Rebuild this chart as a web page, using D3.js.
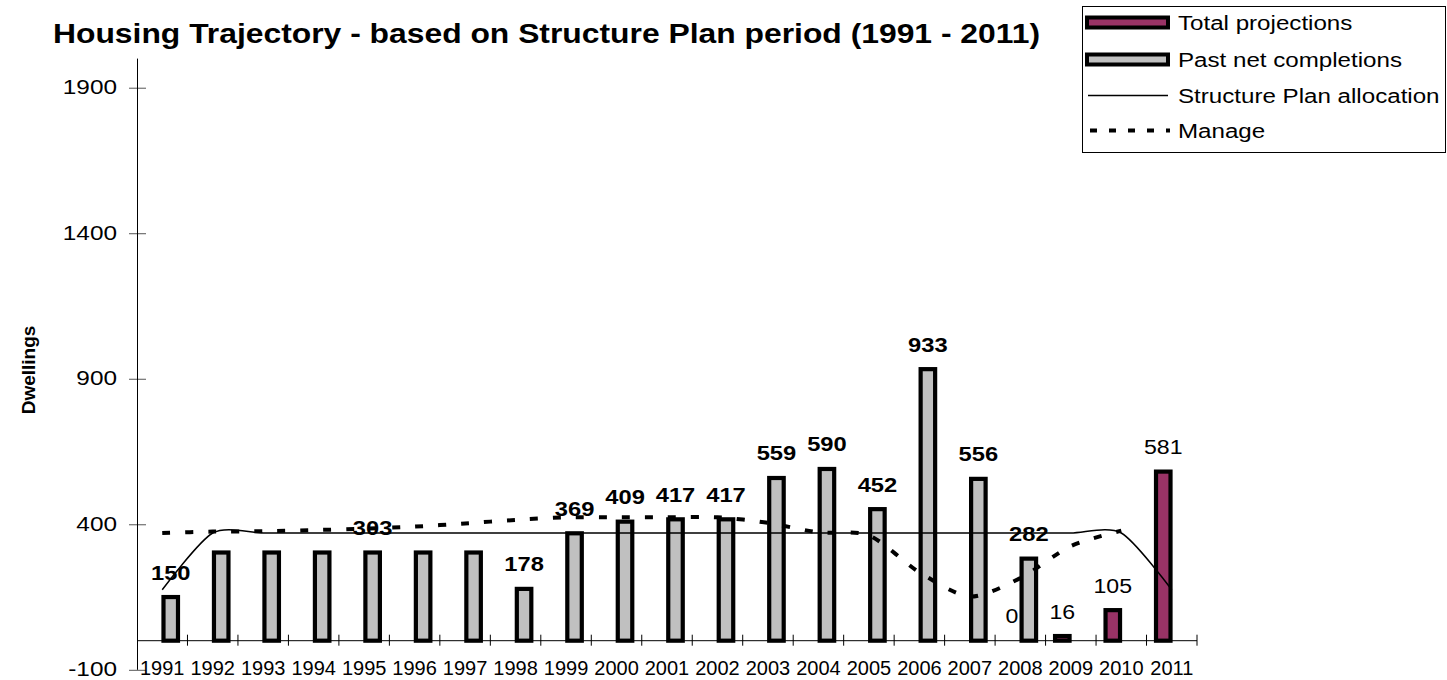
<!DOCTYPE html>
<html>
<head>
<meta charset="utf-8">
<script src="https://cdn.jsdelivr.net/npm/d3@7"></script>
<style>
  html, body { margin: 0; padding: 0; background: #fff; }
  svg { display: block; font-family: "Liberation Sans", Arial, sans-serif; }
</style>
</head>
<body>
<svg id="chart" width="1447" height="680"></svg>
<script>
// Housing trajectory data, 1991 - 2011
const years = ["1991","1992","1993","1994","1995","1996","1997","1998","1999","2000",
               "2001","2002","2003","2004","2005","2006","2007","2008","2009","2010","2011"];
const seriesNames = ["Total projections", "Past net completions"];
const completions = [150, 303, 303, 303, 303, 303, 303, 178, 369, 409,
                     417, 417, 559, 590, 452, 933, 556, 282, null, null, null];
const completionLabels = ["150", "", "", "", "303", "", "", "178", "369", "409",
                          "417", "417", "559", "590", "452", "933", "556", "282", "", "", ""];
const projections = [null, null, null, null, null, null, null, null, null, null,
                     null, null, null, null, null, null, null, 0, 16, 105, 581];
const allocation = [175, 370, 370, 370, 370, 370, 370, 370, 370, 370,
                    370, 370, 370, 370, 370, 370, 370, 370, 370, 370, 175];
const manage = [370, 375, 376, 380, 385, 392, 403, 415, 424, 424,
                424, 424, 405, 372, 362, 235, 152, 215, 325, 378];
const yTicks = [-100, 400, 900, 1400, 1900];

const svg = d3.select("#chart");
const PURPLE = "#993366", GREY = "#C0C0C0";

// Scales
const x = d3.scaleBand().domain(years).range([137, 1197]).padding(0);
const xs = d3.scaleBand().domain(seriesNames).range([-17, 17]).padding(0);
const y = d3.scaleLinear().domain([-100, 2000]).range([669.8, 58.6]);
const cx = yr => x(yr) + x.bandwidth() / 2;
const barW = 14.5;

// Title
svg.append("text")
  .attr("x", 53).attr("y", 43)
  .attr("font-size", 27).attr("font-weight", "bold")
  .attr("textLength", 987).attr("lengthAdjust", "spacingAndGlyphs")
  .text("Housing Trajectory - based on Structure Plan period (1991 - 2011)");

// Value axis
const yAxis = svg.append("g")
  .attr("transform", `translate(137,0)`)
  .call(d3.axisLeft(y).tickValues(yTicks).tickFormat(d => String(d))
          .tickSize(8).tickPadding(12).tickSizeOuter(0));
yAxis.select(".domain").remove();
yAxis.selectAll(".tick line").attr("stroke", "#555").attr("x2", 9).attr("x1", -8);
yAxis.selectAll(".tick text")
  .attr("x", 0).attr("dy", "0.28em")
  .attr("font-size", 21).attr("fill", "#000")
  .attr("font-family", "Liberation Sans, Arial, sans-serif")
  .attr("transform", "translate(-20,0) scale(1.16,1)");
svg.append("line")
  .attr("x1", 137.5).attr("x2", 137.5)
  .attr("y1", y(2000)).attr("y2", y(-100))
  .attr("stroke", "#000").attr("stroke-width", 1);

// Axis title
svg.append("text")
  .attr("transform", `translate(35,370) rotate(-90)`)
  .attr("text-anchor", "middle")
  .attr("font-size", 19).attr("font-weight", "bold")
  .text("Dwellings");

// Category axis line at zero with cross ticks on category boundaries
svg.append("line")
  .attr("x1", 137).attr("x2", 1197)
  .attr("y1", y(0)).attr("y2", y(0))
  .attr("stroke", "#000").attr("stroke-width", 1);
svg.append("g").selectAll("line")
  .data(years)
  .join("line")
  .attr("x1", d => x(d) + x.bandwidth()).attr("x2", d => x(d) + x.bandwidth())
  .attr("y1", y(0) - 6).attr("y2", y(0) + 5)
  .attr("stroke", "#000").attr("stroke-width", 1);

// Category labels along the bottom
const xAxis = svg.append("g")
  .attr("transform", `translate(0,${y(-100)})`)
  .call(d3.axisBottom(x).tickSize(0).tickSizeOuter(0));
xAxis.select(".domain").remove();
xAxis.selectAll(".tick text")
  .attr("y", 5).attr("dy", 0)
  .attr("font-size", 20).attr("fill", "#000")
  .attr("font-family", "Liberation Sans, Arial, sans-serif");

// Bars
const barData = [];
years.forEach((yr, i) => {
  if (projections[i] !== null) barData.push({ yr, s: seriesNames[0], v: projections[i], fill: PURPLE });
  if (completions[i] !== null) barData.push({ yr, s: seriesNames[1], v: completions[i], fill: GREY });
});
svg.append("g").selectAll("rect")
  .data(barData)
  .join("rect")
  .attr("x", d => cx(d.yr) + xs(d.s) + (xs.bandwidth() - barW) / 2)
  .attr("width", barW)
  .attr("y", d => y(d.v))
  .attr("height", d => y(0) - y(d.v))
  .attr("fill", d => d.fill)
  .attr("stroke", "#000").attr("stroke-width", 4.2);

// Lines
const smooth = d3.curveCardinal.tension(0.2);
svg.append("path")
  .datum(allocation)
  .attr("d", d3.line().x((d, i) => cx(years[i])).y(d => y(d)).curve(smooth))
  .attr("fill", "none").attr("stroke", "#000").attr("stroke-width", 1.5);
svg.append("path")
  .datum(manage)
  .attr("d", d3.line().x((d, i) => cx(years[i])).y(d => y(d)).curve(smooth))
  .attr("fill", "none").attr("stroke", "#000").attr("stroke-width", 4)
  .attr("stroke-dasharray", "8,15");

// Data labels
const labels = svg.append("g").attr("font-family", "Liberation Sans, Arial, sans-serif");
years.forEach((yr, i) => {
  if (completionLabels[i] !== "") {
    const px = cx(yr) + xs(seriesNames[1]) + xs.bandwidth() / 2;
    labels.append("text")
      .attr("transform", `translate(${px},${y(completions[i]) - 17.5}) scale(1.13,1)`)
      .attr("text-anchor", "middle")
      .attr("font-size", 21).attr("font-weight", "bold")
      .text(completionLabels[i]);
  }
  if (projections[i] !== null) {
    const px = cx(yr) + xs(seriesNames[0]) + xs.bandwidth() / 2;
    labels.append("text")
      .attr("transform", `translate(${px},${y(projections[i]) - 17.5}) scale(1.1,1)`)
      .attr("text-anchor", "middle")
      .attr("font-size", 21)
      .text(projections[i]);
  }
});

// Legend
const lg = svg.append("g");
lg.append("rect")
  .attr("x", 1082.5).attr("y", 6.5).attr("width", 363).attr("height", 146)
  .attr("fill", "#fff").attr("stroke", "#000").attr("stroke-width", 1);
const legendRows = [
  { name: seriesNames[0], type: "bar", fill: PURPLE, base: 30 },
  { name: seriesNames[1], type: "bar", fill: GREY, base: 67 },
  { name: "Structure Plan allocation", type: "line", base: 103 },
  { name: "Manage", type: "dash", base: 138 }
];
legendRows.forEach(r => {
  const mid = r.base - 7.5;
  if (r.type === "bar") {
    lg.append("rect").attr("x", 1087).attr("y", mid - 5).attr("width", 81).attr("height", 10)
      .attr("fill", r.fill).attr("stroke", "#000").attr("stroke-width", 4);
  } else if (r.type === "line") {
    lg.append("line").attr("x1", 1088).attr("x2", 1168).attr("y1", mid).attr("y2", mid)
      .attr("stroke", "#000").attr("stroke-width", 1.5);
  } else {
    lg.append("line").attr("x1", 1090).attr("x2", 1170).attr("y1", mid).attr("y2", mid)
      .attr("stroke", "#000").attr("stroke-width", 4).attr("stroke-dasharray", "7,12");
  }
  lg.append("text")
    .attr("transform", `translate(1178,${r.base}) scale(1.15,1)`)
    .attr("font-size", 21)
    .text(r.name);
});
</script>
</body>
</html>
